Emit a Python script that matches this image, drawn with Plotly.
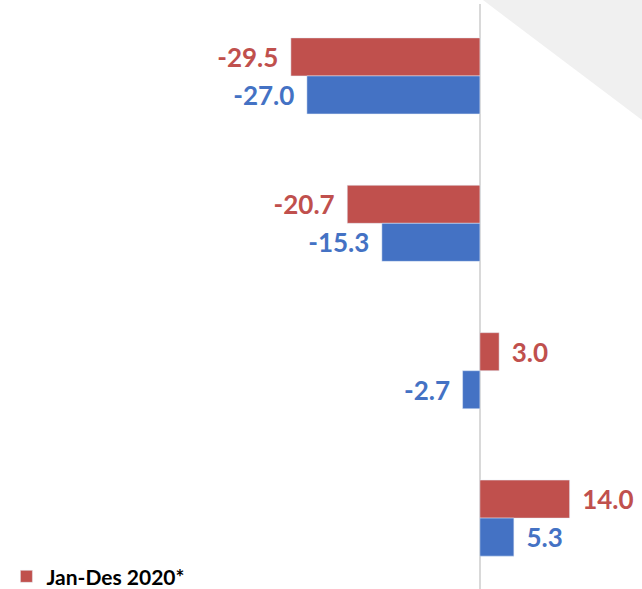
import plotly.graph_objects as go

# categories (labels are cut off in the source picture)
categories = ["Kategori 1", "Kategori 2", "Kategori 3", "Kategori 4"]
jan_des_2020 = [-29.5, -20.7, 3.0, 14.0]
pembanding = [-27.0, -15.3, -2.7, 5.3]

RED = "#c0504d"
BLUE = "#4472c4"
FONT = "Lato"


def pad_label(v):
    # a little space between the bar end and its label
    nb = "\u00a0\u2009"
    return f"{v:.1f}{nb}" if v < 0 else f"{nb}{v:.1f}"


fig = go.Figure()

fig.add_trace(go.Bar(
    y=categories, x=jan_des_2020, orientation="h",
    name="Jan-Des 2020*",
    marker=dict(color=RED),
    text=[pad_label(v) for v in jan_des_2020],
    textposition="outside", constraintext="none", cliponaxis=False,
    textfont=dict(family=FONT, size=26, color=RED, weight="bold"),
))

fig.add_trace(go.Bar(
    y=categories, x=pembanding, orientation="h",
    name="Pembanding", showlegend=False,
    marker=dict(color=BLUE),
    text=[pad_label(v) for v in pembanding],
    textposition="outside", constraintext="none", cliponaxis=False,
    textfont=dict(family=FONT, size=26, color=BLUE, weight="bold"),
))

fig.update_layout(
    width=642, height=589,
    margin=dict(l=0, r=0, t=4, b=0, autoexpand=False),
    paper_bgcolor="white", plot_bgcolor="white",
    barmode="group", bargap=0.484, bargroupgap=0,
    font=dict(family=FONT),
    showlegend=True,
    legend=dict(
        x=0.01, y=-0.014, xanchor="left", yanchor="bottom",
        font=dict(family=FONT, size=21, color="black", weight="bold"),
        bgcolor="rgba(0,0,0,0)",
    ),
    # grey corner decoration top right
    shapes=[dict(
        type="path", xref="paper", yref="paper",
        path="M 0.7523 1.0068 L 1 1.0068 L 1 0.8017 Z",
        fillcolor="#f0f0f0", line=dict(width=0), layer="below",
    )],
)

fig.update_xaxes(
    range=[-74.9, 25.3], showgrid=False, showticklabels=False,
    zeroline=True, zerolinecolor="#d9d9d9", zerolinewidth=2,
)
fig.update_yaxes(
    range=[3.481, -0.488], showgrid=False, showticklabels=False,
    zeroline=False,
)

# drop the browser's default page margin so the chart fills the window
fig.write_html("out.html", config={"displayModeBar": False},
               post_script="document.body.style.margin='0';")
